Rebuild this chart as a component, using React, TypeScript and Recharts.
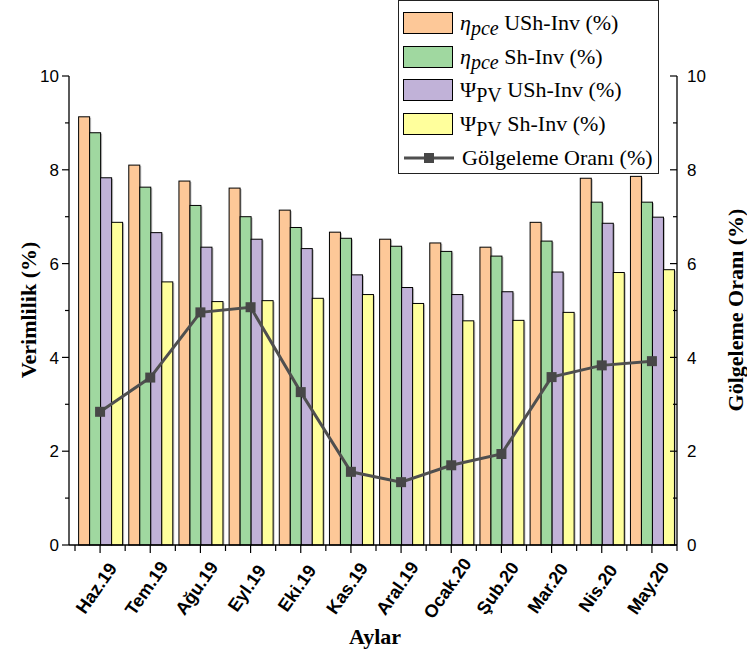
import React from 'react';
import { ComposedChart, Bar, Line, XAxis, YAxis } from 'recharts';

const months = ['Haz.19', 'Tem.19', 'Ağu.19', 'Eyl.19', 'Eki.19', 'Kas.19', 'Aral.19', 'Ocak.20', 'Şub.20', 'Mar.20', 'Nis.20', 'May.20'];
const pceUnshaded = [9.13, 8.1, 7.76, 7.61, 7.14, 6.67, 6.52, 6.44, 6.35, 6.88, 7.82, 7.86];
const pceShaded = [8.79, 7.63, 7.24, 7.0, 6.77, 6.54, 6.37, 6.26, 6.16, 6.48, 7.31, 7.31];
const pvUnshaded = [7.83, 6.66, 6.35, 6.52, 6.32, 5.76, 5.49, 5.34, 5.4, 5.82, 6.86, 6.99];
const pvShaded = [6.88, 5.61, 5.19, 5.21, 5.26, 5.34, 5.15, 4.78, 4.79, 4.96, 5.81, 5.87];
const shadingRatio = [2.84, 3.57, 4.96, 5.07, 3.26, 1.56, 1.34, 1.7, 1.94, 3.58, 3.83, 3.92];
const yTicks = [0, 1, 2, 3, 4, 5, 6, 7, 8, 9, 10];

const data = months.map((m, i) => ({
  month: m,
  pceU: pceUnshaded[i],
  pceS: pceShaded[i],
  pvU: pvUnshaded[i],
  pvS: pvShaded[i],
  ratio: shadingRatio[i],
}));

const colors = {
  pceU: '#FDC898',
  pceS: '#A0D8A0',
  pvU: '#C1B2D8',
  pvS: '#FFFF9C',
  line: '#4F4F4F',
};

const tickFont = '"Liberation Sans", Arial, sans-serif';
const titleFont = '"Liberation Serif", "Times New Roman", serif';

const ShadowBar = (props: any) => {
  const { x, y, width, height, fill } = props;
  if (!height || height <= 0) return null;
  return (
    <g>
      <rect x={x + 1.5} y={y + 1} width={width} height={height - 1} fill="#8a8a8a" opacity={0.55} />
      <rect x={x} y={y} width={width} height={height} fill={fill} stroke="#000" strokeWidth={1} />
    </g>
  );
};

const SquareDot = (props: any) => {
  const { cx, cy } = props;
  if (cx == null || cy == null) return null;
  return <rect x={cx - 5} y={cy - 5} width={10} height={10} fill="#474747" />;
};

const LeftTick = (props: any) => {
  const { x, y, payload } = props;
  const major = payload.value % 2 === 0;
  return (
    <g>
      <line x1={x} x2={x - (major ? 7 : 4)} y1={y} y2={y} stroke="#000" strokeWidth={1.2} />
      {major && (
        <text x={x - 10} y={y} dy="0.36em" textAnchor="end" fontSize={17} fontFamily={tickFont} fill="#000">
          {payload.value}
        </text>
      )}
    </g>
  );
};

const RightTick = (props: any) => {
  const { x, y, payload } = props;
  const major = payload.value % 2 === 0;
  return (
    <g>
      <line x1={x} x2={x - (major ? 7 : 4)} y1={y} y2={y} stroke="#000" strokeWidth={1.2} />
      {major && (
        <text x={x + 10} y={y} dy="0.36em" textAnchor="start" fontSize={17} fontFamily={tickFont} fill="#000">
          {payload.value}
        </text>
      )}
    </g>
  );
};

const MonthTick = (props: any) => {
  const { x, y, payload, index } = props;
  const half = payload && payload.offset ? payload.offset : 25.1;
  const cx = x - 4;
  const cy = y + 43;
  return (
    <g>
      <line x1={x} x2={x} y1={y} y2={y + 8} stroke="#000" strokeWidth={1.2} />
      <line x1={x - half} x2={x - half} y1={y} y2={y + 6} stroke="#000" strokeWidth={1.2} />
      {index === months.length - 1 && (
        <line x1={x + half} x2={x + half} y1={y} y2={y + 6} stroke="#000" strokeWidth={1.2} />
      )}
      <text
        x={cx}
        y={cy}
        dy="0.36em"
        textAnchor="middle"
        fontSize={18}
        fontWeight="bold"
        fontFamily={tickFont}
        fill="#000"
        transform={`rotate(-55, ${cx}, ${cy})`}
      >
        {payload.value}
      </text>
    </g>
  );
};

const legendRows = [
  { key: 'pceU', kind: 'eta', label: 'USh-Inv (%)' },
  { key: 'pceS', kind: 'eta', label: 'Sh-Inv (%)' },
  { key: 'pvU', kind: 'psi', label: 'USh-Inv (%)' },
  { key: 'pvS', kind: 'psi', label: 'Sh-Inv (%)' },
  { key: 'line', kind: 'line', label: 'Gölgeleme Oranı (%)' },
];

const ChartLegend = () => (
  <div
    style={{
      position: 'absolute',
      left: 398,
      top: 0,
      width: 261,
      height: 174,
      boxSizing: 'border-box',
      border: '1px solid #222',
      background: '#fff',
      paddingTop: 5,
      fontFamily: titleFont,
      fontSize: 22,
      lineHeight: '24px',
      color: '#000',
    }}
  >
    {legendRows.map((r) => (
      <div key={r.key} style={{ display: 'flex', alignItems: 'center', height: 33.7 }}>
        {r.kind === 'line' ? (
          <svg width={52} height={22} style={{ marginLeft: 4, flexShrink: 0 }}>
            <line x1={1} x2={51} y1={11} y2={11} stroke={colors.line} strokeWidth={3} />
            <rect x={21} y={6} width={10} height={10} fill="#474747" />
          </svg>
        ) : (
          <div
            style={{
              marginLeft: 4,
              width: 50,
              height: 22,
              flexShrink: 0,
              boxSizing: 'border-box',
              border: '1px solid #000',
              background: (colors as any)[r.key],
            }}
          />
        )}
        <div style={{ marginLeft: 7, whiteSpace: 'nowrap' }}>
          {r.kind === 'eta' && (
            <i>
              η<sub style={{ fontSize: 20, lineHeight: 0 }}>pce</sub>
            </i>
          )}
          {r.kind === 'psi' && (
            <span>
              Ψ<sub style={{ fontSize: 20, lineHeight: 0 }}>PV</sub>
            </span>
          )}
          {r.kind !== 'line' ? ' ' : ''}
          {r.label}
        </div>
      </div>
    ))}
  </div>
);

const Titles = () => (
  <svg width={747} height={651} style={{ position: 'absolute', left: 0, top: 0, pointerEvents: 'none' }}>
    <text
      x={28}
      y={310}
      textAnchor="middle"
      dy="0.35em"
      fontSize={22}
      fontWeight="bold"
      fontFamily={titleFont}
      transform="rotate(-90, 28, 310)"
    >
      Verimlilik (%)
    </text>
    <text
      x={735}
      y={310}
      textAnchor="middle"
      dy="0.35em"
      fontSize={22}
      fontWeight="bold"
      fontFamily={titleFont}
      transform="rotate(-90, 735, 310)"
    >
      Gölgeleme Oranı (%)
    </text>
    <text x={375} y={636} textAnchor="middle" dy="0.35em" fontSize={22} fontWeight="bold" fontFamily={titleFont}>
      Aylar
    </text>
  </svg>
);

export default function App() {
  return (
    <div style={{ position: 'absolute', left: 0, top: 0, width: 747, height: 651, background: '#fff' }}>
      <ComposedChart
        width={747}
        height={651}
        data={data}
        margin={{ top: 76, right: 20, bottom: 26, left: 19 }}
        barCategoryGap="7.2%"
        barGap={0}
      >
        <XAxis
          dataKey="month"
          height={80}
          interval={0}
          padding={{ left: 6, right: 0 }}
          tickSize={0}
          tickMargin={0}
          tickLine={false}
          axisLine={{ stroke: '#000', strokeWidth: 1.3 }}
          tick={<MonthTick />}
        />
        <YAxis
          yAxisId="left"
          width={50}
          domain={[0, 10]}
          ticks={yTicks}
          interval={0}
          tickSize={0}
          tickMargin={0}
          tickLine={false}
          axisLine={{ stroke: '#000', strokeWidth: 1.3 }}
          tick={<LeftTick />}
        />
        <YAxis
          yAxisId="right"
          orientation="right"
          width={50}
          domain={[0, 10]}
          ticks={yTicks}
          interval={0}
          tickSize={0}
          tickMargin={0}
          tickLine={false}
          axisLine={{ stroke: '#000', strokeWidth: 1.3 }}
          tick={<RightTick />}
        />
        <Bar yAxisId="left" dataKey="pceU" fill={colors.pceU} shape={<ShadowBar />} isAnimationActive={false} />
        <Bar yAxisId="left" dataKey="pceS" fill={colors.pceS} shape={<ShadowBar />} isAnimationActive={false} />
        <Bar yAxisId="left" dataKey="pvU" fill={colors.pvU} shape={<ShadowBar />} isAnimationActive={false} />
        <Bar yAxisId="left" dataKey="pvS" fill={colors.pvS} shape={<ShadowBar />} isAnimationActive={false} />
        <Line
          yAxisId="right"
          type="linear"
          dataKey="ratio"
          stroke={colors.line}
          strokeWidth={3}
          dot={<SquareDot />}
          activeDot={false}
          isAnimationActive={false}
        />
      </ComposedChart>
      <ChartLegend />
      <Titles />
    </div>
  );
}
